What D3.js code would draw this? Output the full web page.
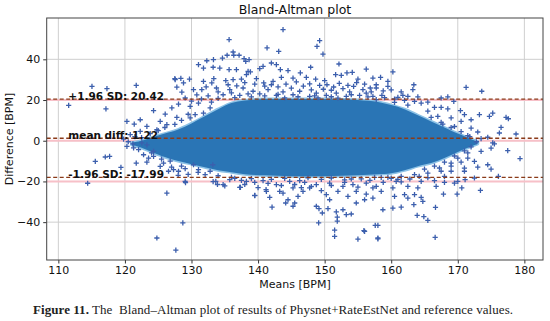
<!DOCTYPE html>
<html>
<head>
<meta charset="utf-8">
<script src="https://cdn.jsdelivr.net/npm/d3@7"></script>
<style>
body { margin: 0; background: #fff; }
svg { display: block; }
</style>
</head>
<body>
<script>
// x tick values and y tick values
var xTicks = [110, 120, 130, 140, 150, 160, 170, 180];
var yTicks = [-40, -20, 0, 20, 40];

// limits of agreement
var meanDiff = 1.22;
var upperLoA = 20.42;
var lowerLoA = -17.99;
var refLines = [20, 0, -20];

// outline of the dense cloud: [mean, top diff, bottom diff]
var coreX =   [121, 122.5, 124, 126, 128, 130, 132, 134, 136, 138, 141, 145, 150, 155, 158, 160, 162, 164, 166, 168, 170, 171.5, 173];
var coreTop = [-1, 0, 1.5, 3.5, 5.5, 8.5, 12, 15.5, 18.5, 19.8, 20.5, 20.5, 20.5, 20, 19, 17.5, 15.5, 12.5, 9.5, 6.5, 3.5, 1.5, -0.5];
var coreBot = [-2, -3.5, -5.5, -8, -10, -11.5, -13, -14.5, -15.5, -16.5, -17, -17.5, -17.5, -17, -16.5, -16, -14.5, -12.5, -11, -8.5, -5.5, -3.5, -1.5];

// scattered points outside the dense cloud: [mean, diff]
var points = [
  [115.05,26.7],[117.3,25.6],[111.55,17.4],[117.15,15.7],[121.7,27.2],[124.3,14.8],[120.3,9.5],[121.4,8.2],
  [122.3,10.3],[123.3,7.1],[126.05,13.1],[127.55,30],[128.8,28.4],[129.7,30.3],[128.55,23.9],[129.05,21],
  [127.05,16.1],[127.8,11.5],[131.05,37.4],[131.8,35.7],[132.3,39.3],[133.3,39.8],[131.8,29.2],[130.3,25.1],
  [131.55,25.1],[133.05,28.4],[131.05,18.5],[132.8,16.1],[129.8,11.2],[130.55,12.8],[131.8,13.6],[125.3,9.5],
  [126.3,7.9],[124.8,5.4],[122.3,4.6],[120.8,3],[128.05,18],[129.8,16.9],[127.5,30.5],[128.4,30.6],[127.8,26.3],
  [134.65,40.6],[135.35,42],[136.25,43.6],[136.35,42],[137.15,42],[137.9,40.3],[138.65,39.8],[138.15,39],
  [135.65,49.7],[141.35,45.6],[143.1,43.9],[143.75,54.6],[149.25,49.2],[148.85,46.4],[149.75,42.6],
  [133.25,36.1],[134.25,35.7],[135.65,34.9],[136.75,34.9],[138.5,34.1],[140.75,36.5],[142,38.2],[142.75,37.4],
  [143.35,34.9],[144.5,34.4],[146.35,33.3],[147.9,36.1],[148.65,30.3],[147.25,31.1],[150,29.5],[152.15,37.7],
  [151.65,32.5],[152.5,32.1],[153.35,33.3],[154.15,33.6],[155,30.3],[156.25,35.2],[157.25,30.8],
  [133.35,30.5],[135.15,29.5],[136.25,30],[137.5,30.3],[138.25,32.5],[138.85,33.8],[139.75,30.5],[140.25,35.4],
  [140.85,28.4],[142.25,29.2],[143.5,31.1],[145.25,30.8],[145.75,28.9],[147.75,27.9],[149.25,27.2],[150.35,27.5],
  [151.35,26.4],[152.75,25.6],[154.35,26.7],[155.75,25.1],[156.85,25.9],[157.75,27.5],[133.75,25.9],[135.75,25.1],
  [137.75,25.9],[139.25,24.3],[141.5,25.1],[143.75,24],[146.25,24.3],[148.75,23.4],[151.75,23.4],[153.75,24],
  [156.25,23.4],[134.75,22.6],[137.25,22.3],[140.25,23],[142.75,22.3],[145.25,22.6],[147.75,21.8],[150.25,22.3],
  [153.25,21.8],[155.25,22.3],[157.25,21.8],[132.5,22],[134,20.8],[136.5,21.2],[139,21.5],[144,21],[149,21],
  [152,20.9],[160.25,33.8],[163.4,27.5],[171.25,26.2],[173.6,24.3],[157.75,25.9],[159.5,26.7],[158.4,31.1],
  [159.5,29.2],[157.75,20.2],[158.6,22.3],[161,21.3],[161.75,22.3],[162.5,21.8],[163.25,25.1],[164,21.5],
  [164.5,18.5],[163.5,19.3],[165.5,19],[167.5,21],[168.5,21.5],[169.4,19.3],[166.5,16.4],[167.5,16.4],
  [168.5,15.7],[170.4,14.8],[171,12.8],[172,10.3],[173.25,12.8],[174.75,12],[175.25,13.6],[177.25,11.5],
  [177.6,10.8],[176.5,6.6],[176.25,3.8],[178.75,3.3],[174.5,1.7],[173,4.3],[172,6.2],[169.5,7],[170.5,9.5],
  [169,11.2],[167.75,8.2],[165.5,14.5],[167,12],[160.5,18.8],[162.5,17.5],[173.5,1],[175.5,-1.5],[171.5,2.5],
  [135.5,27.5],[136.8,27],[138,28.5],[139.5,27.8],[141,26.8],[142,27.5],[143,26.5],[144.2,27.8],[145,25.8],
  [146.8,26.8],[148,25],[149.8,25.3],[151,24.8],[152.2,28.2],[153.5,27.2],[154.8,28.5],[156,27.8],[157,24],
  [158.8,24.5],[160,25],[161.5,24],[134,24],[136,23.5],[138.5,23],[141,22],[143,22.8],[146,21.6],[148.5,22],
  [151,21.6],[154,22.6],[156.5,21.5],[159,21.2],[160.5,20.5],[162,19.8],[133,19],[131.5,20.5],[130,19.5],
  [132.2,26.5],[130.8,22.5],
  [122.5,1.5],[123.8,3.5],[125,5],[126,6.5],[127.5,8],[128.5,10],[129.5,13],[124,-6],[125.5,-9],[126.8,-10],
  [128.5,-12.5],[121.3,-3.5],
  [166,11.5],[167.5,9],[169,6.5],[170.5,4.5],[171.8,2],[172.8,-0.5],[172,-3],[171,-5],[169.5,-7.5],[168,-10.5],
  [166.5,-12.5],[165,-14],
  [114.4,-20.9],[115.55,-10.1],[117.05,-8],[117.7,-7.7],[119.4,-13.1],[121.7,-11],[123.3,-10.5],[120.3,-2.8],
  [121.2,-1.5],[122.05,-4.4],[122.55,-1.1],[123.3,-2],[124.3,-5.2],[126.3,-25.7],[129.05,-20],[128.7,-40.4],
  [124.8,-47.8],[127.65,-53.7],[125.8,-11],[125.3,-12.6],[126.55,-15],[127.3,-14.2],[128.05,-15],[129.05,-13.7],
  [130.3,-11.8],[131.05,-14.2],[132.05,-16.7],[132.8,-15],[133.2,-11.8],[123.55,-8.5],[122.8,-6.9],[124.3,-7.7],
  [120.5,-0.5],[121.5,2],[119.8,0.8],[129.1,-20.6],[133.25,-20.1],[133.9,-21.5],[135,-22.2],[137.25,-22.9],
  [139.5,-27],[141.2,-24],
  [134,-17.2],[136,-18],[137.5,-19.5],[139.5,-20.5],[141.5,-21],[143.5,-22],[145.5,-21.5],[147,-20.5],[148,-22.5],
  [149.5,-24.5],[151,-22],[153,-20.5],[155,-22.8],[156.8,-19.5],[158.8,-20.5],[160,-18.5],[161.5,-20.2],
  [162.8,-18.8],[164.2,-17.5],[165.5,-18.2],[146.5,-23],[140,-23],[138,-21.5],[131,-15.5],[129.5,-16.5],
  [128,-17],[127,-13],[144,-18.5],[147.5,-18.2],[151,-18.3],[154,-18.8],[157.5,-18],[161,-19],[167.5,-15],
  [169,-12.5],[170.5,-10.5],[171.5,-8.5],
  [155,-48.3],[151.5,-47],[151.5,-43.9],[149.1,-40.4],[155.9,-44.2],[157.6,-41.6],[142.1,-32.6],[145.25,-32.2],
  [145.5,-30.6],[144.5,-29],[144.15,-30.6],[148.75,-32.2],[149.15,-33.4],[149.65,-35.5],[141.75,-27.8],
  [141.25,-24.9],[139.5,-26.8],[137.35,-22.9],[134.75,-21.6],[133.65,-20],[143.25,-24.9],[143.75,-25.7],
  [146,-27.3],[146.75,-24.9],[147.75,-23.2],[150.5,-33.4],[151.75,-35],[153.25,-36.3],[154,-36],[152.75,-33.9],
  [154.75,-30.6],[156,-29],[157.25,-28.2],[156.25,-26.2],[154.75,-24.9],[153.5,-27.3],[152,-24.9],[150.75,-29],
  [150.25,-26.5],[142.75,-21.6],[144.75,-20],[145.25,-23.2],[148.75,-21.6],[150.75,-20.8],[152.75,-22.4],
  [154.25,-21.6],[156.25,-20.8],[138.25,-20],[140.75,-19.6],[135.75,-19.1],[146.25,-19.6],[157.25,-23.2],
  [136.5,-18.5],[139,-18.6],[142,-19],[149.5,-19],[153,-19.2],[155.5,-18.7],[151.9,-37.5],[151.9,-39.5],
  [156,-44.5],[158,-48.2],
  [177.5,-4.9],[179.35,-8.8],[176.1,-17.5],[173.4,-24.4],[171.1,-19.1],[170.6,-23.2],[169.9,-26.2],[169.5,-20.8],
  [167.85,-26.2],[166.65,-32.7],[166.6,-47.5],[163.9,-36.7],[164.9,-37.3],[165.5,-39.1],[158,-41.6],[158,-47.8],
  [158.75,-33.9],[160.25,-33.1],[161.5,-32.6],[163.4,-31.4],[164.75,-29.8],[164.5,-27.8],[162.5,-28.2],
  [164,-23.2],[163.5,-26.5],[162,-26.5],[160.5,-27.3],[160.75,-20],[160.25,-23.2],[158.5,-24.9],[157.75,-22.4],
  [162.5,-22.4],[164.5,-20],[166.5,-19.6],[166.75,-22.4],[168,-17.5],[169,-15],[171,-15],[172.5,-18.3],
  [174.5,-11.8],[172.5,-10.1],[171.5,-6],[173.5,-5.2],[175,-3.6],[175.25,-1.1],[170,-8.5],[169,-11],
  [167.25,-13.4],[165.5,-15.9],[163.5,-16.7],[161.5,-17.5],[159.5,-18],[158.5,-18],[171,-13.5],[173,-13],
  [175,-14],[168,-20.5],[170,-20]
];

var W = 550, H = 321;
var svg = d3.select("body").append("svg").attr("width", W).attr("height", H);

var x = d3.scaleLinear().domain([108.25, 182.8]).range([46.7, 543]);
var y = d3.scaleLinear().domain([-58.6, 60.3]).range([260, 18]);

var font = "DejaVu Sans, sans-serif";

// grid
svg.append("g").selectAll("line").data(xTicks).enter().append("line")
  .attr("x1", function(d) { return x(d); }).attr("x2", function(d) { return x(d); })
  .attr("y1", y.range()[1]).attr("y2", y.range()[0])
  .attr("stroke", "#cfcfcf").attr("stroke-width", 1);
svg.append("g").selectAll("line").data(yTicks).enter().append("line")
  .attr("x1", x.range()[0]).attr("x2", x.range()[1])
  .attr("y1", function(d) { return y(d); }).attr("y2", function(d) { return y(d); })
  .attr("stroke", "#cfcfcf").attr("stroke-width", 1);

// pink reference lines
svg.append("g").selectAll("line").data(refLines).enter().append("line")
  .attr("x1", x.range()[0]).attr("x2", x.range()[1])
  .attr("y1", function(d) { return y(d); }).attr("y2", function(d) { return y(d); })
  .attr("stroke", "#f7c0c8").attr("stroke-width", 2);

// dense cloud
var core = coreX.map(function(d, i) { return { m: d, t: coreTop[i], b: coreBot[i] }; });
var area = d3.area()
  .x(function(d) { return x(d.m); })
  .y0(function(d) { return y(d.b); })
  .y1(function(d) { return y(d.t); })
  .curve(d3.curveCatmullRom);
svg.append("path").datum(core).attr("d", area)
  .attr("fill", "#2a75b5").attr("stroke", "#8cc2e6").attr("stroke-width", 3).attr("stroke-linejoin", "round");
svg.append("path").datum(core).attr("d", area).attr("fill", "#2a75b5");

// scattered points
svg.append("g").selectAll("path").data(points).enter().append("path")
  .attr("transform", function(d) { return "translate(" + x(d[0]) + "," + y(d[1]) + ")"; })
  .attr("d", "M-2.6,0H2.6M0,-2.6V2.6")
  .attr("stroke", "#3c5fad").attr("stroke-width", 1.3).attr("fill", "none");

// limit lines
[upperLoA, meanDiff, lowerLoA].forEach(function(v) {
  svg.append("line")
    .attr("x1", x.range()[0]).attr("x2", x.range()[1])
    .attr("y1", y(v)).attr("y2", y(v))
    .attr("stroke", "#8a3a18").attr("stroke-width", 1.3).attr("stroke-dasharray", "4,2.5");
});

// labels on the lines
var labels = [
  { v: upperLoA, t: "+1.96 SD: " + upperLoA.toFixed(2) },
  { v: meanDiff, t: "mean diff: " + meanDiff.toFixed(2) },
  { v: lowerLoA, t: "-1.96 SD: " + lowerLoA.toFixed(2) }
];
svg.append("g").selectAll("text").data(labels).enter().append("text")
  .attr("x", x(111.5)).attr("y", function(d) { return y(d.v) + 0.5; })
  .attr("font-family", font).attr("font-size", 10.5).attr("font-weight", "bold")
  .attr("fill", "#111").text(function(d) { return d.t; });

// axes
var xAxis = svg.append("g").attr("transform", "translate(0," + y.range()[0] + ")")
  .call(d3.axisBottom(x).tickValues(xTicks).tickSize(3.5).tickPadding(3));
var yAxis = svg.append("g").attr("transform", "translate(" + x.range()[0] + ",0)")
  .call(d3.axisLeft(y).tickValues(yTicks).tickSize(3.5).tickPadding(3)
    .tickFormat(function(d) { return d < 0 ? "\u2212" + Math.abs(d) : d; }));
[xAxis, yAxis].forEach(function(a) {
  a.select(".domain").remove();
  a.selectAll("text").attr("font-family", font).attr("font-size", 11).attr("fill", "#111");
  a.selectAll("line").attr("stroke", "#333");
});

// frame
svg.append("rect")
  .attr("x", x.range()[0]).attr("y", y.range()[1])
  .attr("width", x.range()[1] - x.range()[0]).attr("height", y.range()[0] - y.range()[1])
  .attr("fill", "none").attr("stroke", "#444").attr("stroke-width", 1);

// titles
svg.append("text").attr("x", 295).attr("y", 14).attr("text-anchor", "middle")
  .attr("font-family", font).attr("font-size", 12.5).attr("fill", "#111").text("Bland-Altman plot");
svg.append("text").attr("x", 295).attr("y", 288).attr("text-anchor", "middle")
  .attr("font-family", font).attr("font-size", 11).attr("fill", "#111").text("Means [BPM]");
svg.append("text").attr("transform", "translate(13,139) rotate(-90)").attr("text-anchor", "middle")
  .attr("font-family", font).attr("font-size", 11).attr("fill", "#111").text("Difference [BPM]");

// caption
var cap = svg.append("text").attr("x", 33).attr("y", 314)
  .attr("font-family", "Liberation Serif, serif").attr("font-size", 13).attr("fill", "#222")
  .attr("textLength", 480).attr("lengthAdjust", "spacing");
cap.append("tspan").attr("font-weight", "bold").text("Figure 11.");
cap.append("tspan").text(" The \u00a0Bland\u2013Altman plot of results of Physnet+RateEstNet and reference values.");
</script>
</body>
</html>
